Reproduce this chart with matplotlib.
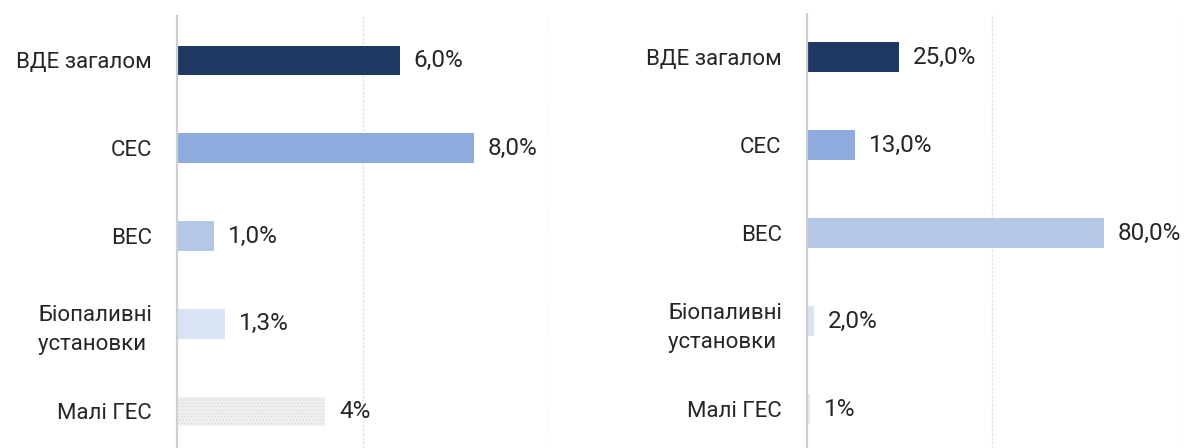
import numpy as np
import matplotlib
matplotlib.use('Agg')
import matplotlib.pyplot as plt

plt.rcParams['font.family'] = ['Roboto', 'DejaVu Sans']
plt.rcParams['hatch.linewidth'] = 0.6

categories = ['ВДЕ загалом', 'СЕС', 'ВЕС', 'Біопаливні\nустановки ', 'Малі ГЕС']
left_values = [6.0, 8.0, 1.0, 1.3, 4.0]
left_labels = ['6,0%', '8,0%', '1,0%', '1,3%', '4%']
right_values = [25.0, 13.0, 80.0, 2.0, 1.0]
right_labels = ['25,0%', '13,0%', '80,0%', '2,0%', '1%']

colors = ['#203864', '#8FAADC', '#B4C7E7', '#DAE3F3', '#EFEFEF']
text_color = '#262626'

fig = plt.figure(figsize=(11.87, 4.48), dpi=100)

ax1 = fig.add_axes([177 / 1187, 0, 371 / 1187, 432 / 448])
ax2 = fig.add_axes([806.7 / 1187, 0, 371 / 1187, 434 / 448])


def draw(ax, values, labels, xmax, grid_step, ylim):
    y = np.arange(len(categories))
    bars = ax.barh(y, values, height=0.34, color=colors, zorder=3)
    # dotted texture for the last bar
    ax.barh(y[-1], values[-1], height=0.34, color='none', edgecolor='#DDDDDD',
            hatch='.....', linewidth=0, zorder=4)
    for b, lab in zip(bars, labels):
        ax.annotate(lab, (b.get_width(), b.get_y() + b.get_height() / 2),
                    xytext=(10, 0), textcoords='offset points',
                    ha='left', va='center', fontsize=17.5, color=text_color)
    ax.set_xlim(0, xmax)
    ax.set_ylim(*ylim)
    ax.set_xticks(np.arange(grid_step, xmax + 0.01, grid_step))
    ax.xaxis.grid(True, color='#E4E4E4', linewidth=1, linestyle=(0, (2, 1)), zorder=0)
    ax.set_xticklabels([])
    ax.tick_params(axis='x', length=0)
    ax.set_yticks(y)
    ax.set_yticklabels(categories, fontsize=16, color=text_color,
                       multialignment='center', linespacing=1.5)
    ax.tick_params(axis='y', length=0, pad=18)
    for s in ['top', 'right', 'bottom']:
        ax.spines[s].set_visible(False)
    ax.spines['left'].set_color('#CFCFCF')
    ax.spines['left'].set_linewidth(1.6)
    ax.spines['left'].set_zorder(5)


draw(ax1, left_values, left_labels, 10, 5, (4.416, -0.507))
draw(ax2, right_values, right_labels, 100, 50, (4.44, -0.49))

fig.savefig('out.png', dpi=100)
